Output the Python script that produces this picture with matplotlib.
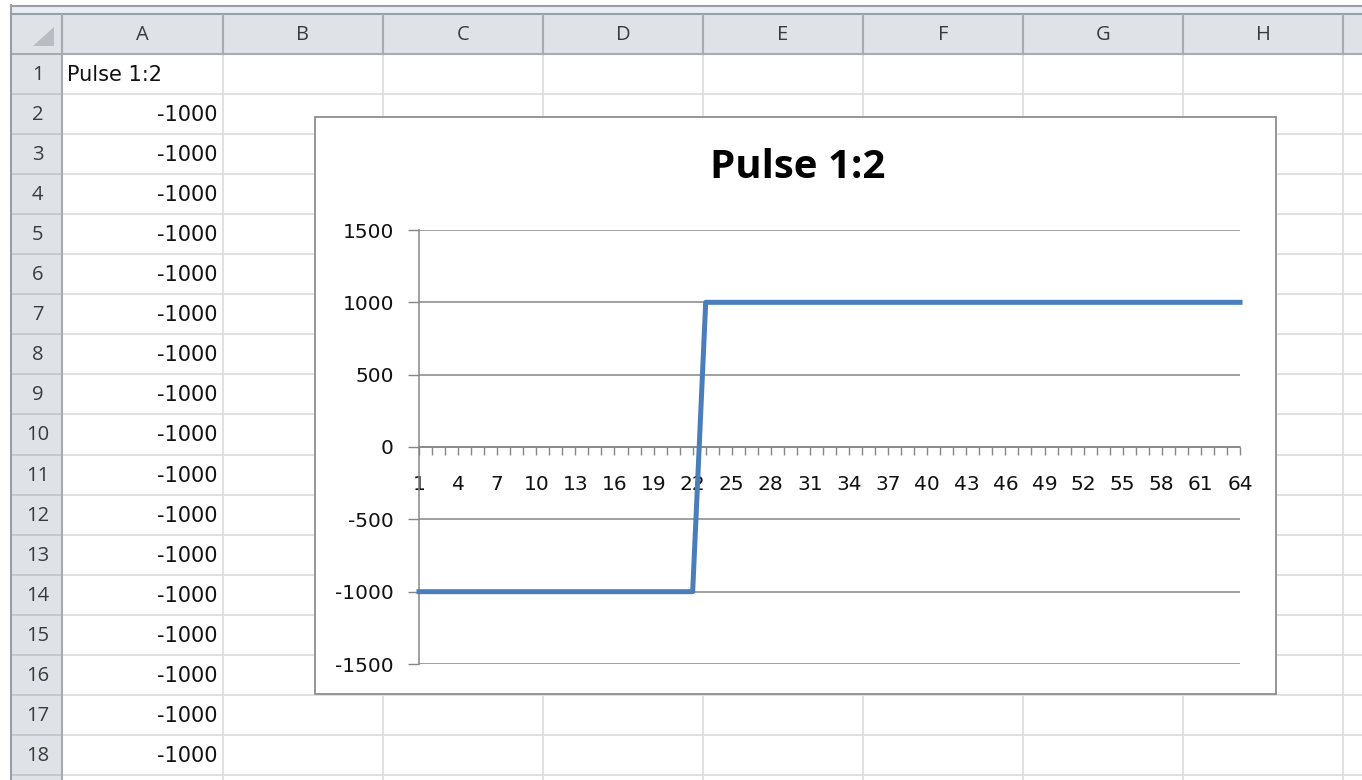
import matplotlib
matplotlib.use("Agg")
import matplotlib.pyplot as plt
import matplotlib.patches as mpatches

# data
title = "Pulse 1:2"
categories = list(range(1, 65))
values = [-1000] * 22 + [1000] * 42
yticks = [-1500, -1000, -500, 0, 500, 1000, 1500]
col_letters = ["A", "B", "C", "D", "E", "F", "G", "H"]

W, H = 1362, 780
HDR_FILL = "#dfe3e8"
HDR_LINE = "#a6abb2"
CELL_LINE = "#dcdedf"
AXIS_GRAY = "#868686"
LINE_BLUE = "#4a7ebb"

fig = plt.figure(figsize=(W / 100, H / 100), dpi=100)
bg = fig.add_axes([0, 0, 1, 1])
bg.set_xlim(0, W)
bg.set_ylim(H, 0)
bg.axis("off")

# sheet geometry (pixels)
left, rh_right = 11, 62
hdr_top, hdr_bot = 15, 54
row_h = 40.05
col_edges = [rh_right] + [223 + 160 * k for k in range(9)]
row_edges = [hdr_bot + row_h * k for k in range(20)]

# top strip
bg.add_patch(mpatches.Rectangle((left, 5), W - left, hdr_top - 5,
                                facecolor="#e9eef6", edgecolor="none"))
bg.plot([left, W], [5.5, 5.5], color="#9a9fa6", lw=1.5)
bg.plot([left, W], [14, 14], color="#9a9fa6", lw=1.5)

# headers
bg.add_patch(mpatches.Rectangle((left, hdr_top), W - left, hdr_bot - hdr_top,
                                facecolor=HDR_FILL, edgecolor="none"))
bg.add_patch(mpatches.Rectangle((left, hdr_bot), rh_right - left, H - hdr_bot,
                                facecolor=HDR_FILL, edgecolor="none"))
bg.add_patch(mpatches.Polygon([(33, 45.5), (54, 45.5), (54, 27)],
                              closed=True, facecolor="#b9bdc3",
                              edgecolor="none"))

# cell grid
for x in col_edges[1:]:
    bg.plot([x, x], [hdr_bot, H], color=CELL_LINE, lw=1.3)
for y in row_edges[1:]:
    bg.plot([rh_right, W], [y, y], color=CELL_LINE, lw=1.3)

# header separators
for x in col_edges:
    bg.plot([x, x], [hdr_top, hdr_bot], color=HDR_LINE, lw=1.5)
for y in row_edges[1:]:
    bg.plot([left, rh_right], [y, y], color="#c3c7cc", lw=1.3)
bg.plot([left, W], [hdr_bot, hdr_bot], color=HDR_LINE, lw=1.5)
bg.plot([rh_right, rh_right], [hdr_top, H], color=HDR_LINE, lw=1.5)
bg.plot([left, left], [5, H], color="#9a9fa6", lw=1.5)

sheet_font = dict(family=["Open Sans", "DejaVu Sans"], fontsize=14.5,
                  color="#3b3b3b")
for i, letter in enumerate(col_letters):
    cx = (col_edges[i] + col_edges[i + 1]) / 2
    bg.text(cx, (hdr_top + hdr_bot) / 2 + 1, letter, ha="center", va="center",
            **sheet_font)
for r in range(18):
    cy = (row_edges[r] + row_edges[r + 1]) / 2 + 1
    bg.text((left + rh_right) / 2 + 1, cy, str(r + 1), ha="center",
            va="center", **sheet_font)

cell_font = dict(family=["DejaVu Sans"], fontsize=15, color="#111111")
bg.text(67, (row_edges[0] + row_edges[1]) / 2 + 1, title, ha="left",
        va="center", **cell_font)
for r in range(1, 18):
    cy = (row_edges[r] + row_edges[r + 1]) / 2 + 1
    bg.text(col_edges[1] - 5, cy, str(values[r - 1]), ha="right",
            va="center", **cell_font)

# chart frame
bg.add_patch(mpatches.Rectangle((315, 117), 961, 577, facecolor="white",
                                edgecolor="#8e8e8e", lw=1.3, zorder=5))
bg.text(798, 168, title, ha="center", va="center", fontsize=29,
        fontweight="bold", family=["Open Sans", "DejaVu Sans"],
        color="#000000", zorder=6)

# plot area
pl, pr, pt, pb = 419, 1240, 230, 664
ax = fig.add_axes([pl / W, 1 - pb / H, (pr - pl) / W, (pb - pt) / H])
ax.patch.set_alpha(0)
ax.plot(categories, values, color=LINE_BLUE, lw=3.6, zorder=3,
        clip_on=False)
ax.set_xlim(categories[0], categories[-1])
ax.set_ylim(yticks[0], yticks[-1])
ax.set_yticks(yticks)
ax.set_yticklabels([str(v) for v in yticks])
ax.set_xticks(categories)
ax.set_xticklabels([str(c) if (c - 1) % 3 == 0 else "" for c in categories])
ax.grid(axis="y", color=AXIS_GRAY, lw=1.1, zorder=1)
ax.set_axisbelow(True)

for side in ("top", "right"):
    ax.spines[side].set_visible(False)
ax.spines["bottom"].set_position(("data", 0))
for side in ("left", "bottom"):
    ax.spines[side].set_color(AXIS_GRAY)
    ax.spines[side].set_linewidth(1.1)

ax.tick_params(axis="x", direction="out", length=5.5, width=1,
               color=AXIS_GRAY, labelsize=14.5, pad=15, labelcolor="#111111")
ax.tick_params(axis="y", direction="out", length=8, width=1,
               color=AXIS_GRAY, labelsize=14.5, pad=10, labelcolor="#111111")

fig.savefig("out.png", dpi=100)
